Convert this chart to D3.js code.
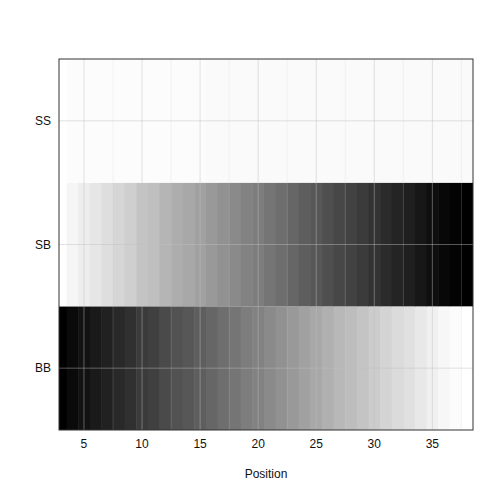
<!DOCTYPE html>
<html><head><script src="https://cdn.jsdelivr.net/npm/d3@7"></script>
<style>body{margin:0;background:#fff}text{font-family:"Liberation Sans",Arial,sans-serif}</style>
</head><body><svg id="c" width="504" height="504"></svg>
<script>
var positions = d3.range(3, 39);
var rows = ['BB', 'SB', 'SS'];
var bbVals = [1,0.96,0.93,0.9,0.87,0.84,0.81,0.77,0.75,0.71,0.68,0.66,0.63,0.6,0.57,0.54,0.51,0.49,0.46,0.43,0.4,0.37,0.34,0.31,0.28,0.26,0.23,0.2,0.17,0.14,0.12,0.09,0.06,0.03,0.01,0];
var sbVals = [0,0.04,0.07,0.1,0.13,0.16,0.19,0.23,0.25,0.29,0.32,0.34,0.37,0.4,0.43,0.46,0.49,0.51,0.54,0.57,0.6,0.63,0.66,0.69,0.72,0.74,0.77,0.8,0.83,0.86,0.88,0.91,0.94,0.97,0.99,1];
var ssVals = [0,0.01,0.01,0.01,0.01,0.01,0.01,0.01,0.01,0.01,0.01,0.01,0.01,0.02,0.02,0.02,0.02,0.02,0.02,0.02,0.02,0.02,0.02,0.02,0.02,0.02,0.02,0.02,0.02,0.02,0.02,0.02,0.02,0.02,0.02,0.02];
var xTicks = [5, 10, 15, 20, 25, 30, 35];

var cells = [];
[bbVals, sbVals, ssVals].forEach(function(vals, r) {
    vals.forEach(function(v, i) {
        cells.push({row: rows[r], pos: positions[i], v: v});
    });
});

var svg = d3.select('#c');
var L = 59, R = 473, T = 59, B = 430;
var x = d3.scaleLinear().domain([2.85, 38.5]).range([L, R]);
var y = d3.scaleBand().domain(['SS', 'SB', 'BB']).range([T, B]);
var col = d3.scaleLinear().domain([0, 1]).range(['#ffffff', '#000000']);

svg.append('clipPath').attr('id', 'cp').append('rect')
    .attr('x', L).attr('y', T).attr('width', R - L).attr('height', B - T);

var g = svg.append('g').attr('clip-path', 'url(#cp)');
g.selectAll('rect.cell').data(cells).enter().append('rect')
    .attr('class', 'cell')
    .attr('x', function(d) { return x(d.pos - 0.5); })
    .attr('width', x(1) - x(0) + 0.5)
    .attr('y', function(d) { return y(d.row); })
    .attr('height', y.bandwidth())
    .attr('fill', function(d) { return col(d.v); });

// grid lines over tiles
g.selectAll('line.vx').data(xTicks).enter().append('line')
    .attr('x1', function(d) { return x(d); }).attr('x2', function(d) { return x(d); })
    .attr('y1', T).attr('y2', B)
    .attr('stroke', 'rgba(190,190,190,0.45)').attr('stroke-width', 1);
g.selectAll('line.vm').data(xTicks.map(function(d) { return d + 2.5; })).enter().append('line')
    .attr('x1', function(d) { return x(d); }).attr('x2', function(d) { return x(d); })
    .attr('y1', T).attr('y2', B)
    .attr('stroke', 'rgba(200,200,200,0.3)').attr('stroke-width', 0.6);
g.selectAll('line.hy').data(rows).enter().append('line')
    .attr('x1', L).attr('x2', R)
    .attr('y1', function(d) { return y(d) + y.bandwidth() / 2; })
    .attr('y2', function(d) { return y(d) + y.bandwidth() / 2; })
    .attr('stroke', 'rgba(190,190,190,0.45)').attr('stroke-width', 1);

svg.append('rect').attr('x', L).attr('y', T).attr('width', R - L).attr('height', B - T)
    .attr('fill', 'none').attr('stroke', '#333').attr('stroke-width', 1);

svg.selectAll('text.xt').data(xTicks).enter().append('text')
    .attr('x', function(d) { return x(d); }).attr('y', 448)
    .attr('text-anchor', 'middle').attr('font-size', 12).attr('fill', '#111')
    .text(function(d) { return d; });
svg.selectAll('text.yt').data(rows).enter().append('text')
    .attr('x', 51).attr('y', function(d) { return y(d) + y.bandwidth() / 2 + 4; })
    .attr('text-anchor', 'end').attr('font-size', 12).attr('fill', '#111')
    .text(function(d) { return d; });
svg.append('text').attr('x', 266).attr('y', 478).attr('text-anchor', 'middle')
    .attr('font-size', 12).attr('fill', '#111').text('Position');
</script></body></html>
